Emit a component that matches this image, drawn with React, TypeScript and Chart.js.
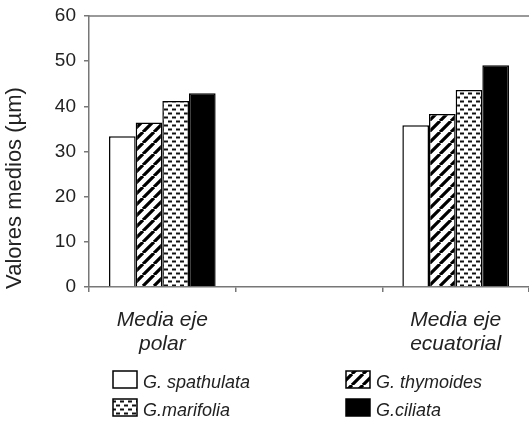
import { useEffect, useRef } from 'react';
import { Chart, registerables } from 'chart.js';

Chart.register(...registerables);

const categories: (string | string[])[] = [['Media eje', 'polar'], '', ['Media eje', 'ecuatorial']];
const seriesNames = ['G. spathulata', 'G. thymoides', 'G.marifolia', 'G.ciliata'];
const spathulata = [33.4, null, 35.8];
const thymoides = [36.4, null, 38.3];
const marifolia = [41.2, null, 43.6];
const ciliata = [42.9, null, 49.1];
const yTicks = [0, 10, 20, 30, 40, 50, 60];
const yTitle = 'Valores medios (µm)';

const FONT = '"Liberation Sans", Arial, sans-serif';
const TEXT = '#222';
const AXIS = '#777';

function hatchPattern(): CanvasPattern | string {
  const s = 11;
  const c = document.createElement('canvas');
  c.width = s;
  c.height = s;
  const g = c.getContext('2d');
  if (!g) return '#888';
  g.fillStyle = '#fff';
  g.fillRect(0, 0, s, s);
  g.strokeStyle = '#000';
  g.lineWidth = 3.2;
  g.beginPath();
  for (const k of [-s, 0, s]) {
    g.moveTo(k, s);
    g.lineTo(k + s, 0);
  }
  g.stroke();
  return g.createPattern(c, 'repeat') as CanvasPattern;
}

function dotPattern(): CanvasPattern | string {
  const w = 8;
  const h = 8;
  const c = document.createElement('canvas');
  c.width = w;
  c.height = h;
  const g = c.getContext('2d');
  if (!g) return '#ccc';
  g.fillStyle = '#fff';
  g.fillRect(0, 0, w, h);
  g.fillStyle = '#111';
  g.fillRect(0, 0.5, 4, 2);
  g.fillRect(4, 4.5, 4, 2);
  return g.createPattern(c, 'repeat') as CanvasPattern;
}

export default function App() {
  const ref = useRef<HTMLCanvasElement | null>(null);

  useEffect(() => {
    if (!ref.current) return;
    const hatch = hatchPattern();
    const dots = dotPattern();
    const fills: (string | CanvasPattern)[] = ['#fff', hatch, dots, '#000'];
    const values = [spathulata, thymoides, marifolia, ciliata];

    const decor = {
      id: 'decor',
      afterDraw(chart: any) {
        const { ctx, chartArea } = chart;
        ctx.save();
        // top border of plot area
        ctx.strokeStyle = AXIS;
        ctx.lineWidth = 1.5;
        ctx.beginPath();
        ctx.moveTo(chartArea.left, chartArea.top);
        ctx.lineTo(chartArea.right, chartArea.top);
        ctx.stroke();
        // y title
        ctx.save();
        ctx.translate(15, 188);
        ctx.rotate(-Math.PI / 2);
        ctx.fillStyle = TEXT;
        ctx.font = `22px ${FONT}`;
        ctx.textAlign = 'center';
        ctx.textBaseline = 'middle';
        ctx.fillText(yTitle, 0, 0);
        ctx.restore();
        // legend
        const cols = [113, 346];
        const rows = [371, 399];
        seriesNames.forEach((name, i) => {
          const x = cols[i % 2];
          const y = rows[Math.floor(i / 2)];
          ctx.fillStyle = fills[i];
          ctx.fillRect(x, y, 24, 17);
          ctx.strokeStyle = '#000';
          ctx.lineWidth = 1.5;
          ctx.strokeRect(x, y, 24, 17);
          ctx.fillStyle = TEXT;
          ctx.font = `italic 18px ${FONT}`;
          ctx.textAlign = 'left';
          ctx.textBaseline = 'alphabetic';
          ctx.fillText(name, x + 30, y + 17);
        });
        ctx.restore();
      },
    };

    const chart = new Chart(ref.current, {
      type: 'bar',
      data: {
        labels: categories as any,
        datasets: values.map((d, i) => ({
          label: seriesNames[i],
          data: d as any,
          backgroundColor: fills[i] as any,
          borderColor: '#000',
          borderWidth: 1.5,
          categoryPercentage: 0.727,
          barPercentage: 1,
        })),
      },
      options: {
        animation: false,
        responsive: true,
        maintainAspectRatio: false,
        layout: { padding: { top: 16, left: 0, right: 0, bottom: 0 } },
        plugins: { legend: { display: false }, tooltip: { enabled: false } },
        scales: {
          x: {
            grid: { offset: true, drawOnChartArea: false, drawTicks: true, tickLength: 5, color: AXIS, lineWidth: 1.5 },
            border: { color: AXIS, width: 1.5 },
            ticks: {
              font: { family: FONT, size: 21, style: 'italic', lineHeight: 1.15 },
              color: TEXT,
              padding: 16,
              maxRotation: 0,
              autoSkip: false,
            },
            afterFit: (s: any) => {
              s.height = 138;
            },
          },
          y: {
            min: 0,
            max: 60,
            afterBuildTicks: (s: any) => {
              s.ticks = yTicks.map((v) => ({ value: v }));
            },
            grid: { drawOnChartArea: false, drawTicks: true, tickLength: 5, color: AXIS, lineWidth: 1.5 },
            border: { color: AXIS, width: 1.5 },
            ticks: { font: { family: FONT, size: 19 }, color: TEXT, padding: 8 },
            afterFit: (s: any) => {
              s.width = 89;
              s.paddingTop = 0;
              s.paddingBottom = 0;
            },
          },
        },
      },
      plugins: [decor],
    });
    return () => chart.destroy();
  }, []);

  return (
    <div style={{ position: 'absolute', left: 0, top: 0, width: 529, height: 425, background: '#fff' }}>
      <canvas ref={ref} />
    </div>
  );
}
